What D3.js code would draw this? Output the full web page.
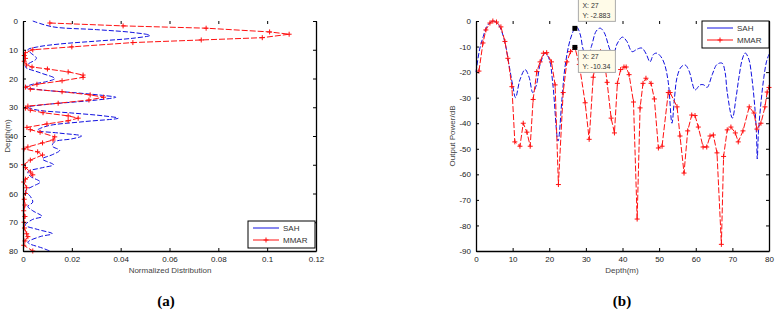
<!DOCTYPE html>
<html>
<head>
<meta charset="utf-8">
<script src="https://cdn.jsdelivr.net/npm/d3@7"></script>
<style>
  html, body { margin: 0; padding: 0; background: #fff; }
  svg { display: block; }
</style>
</head>
<body>
<svg id="chart" width="775" height="314" font-family="'Liberation Sans', Arial, sans-serif"></svg>
<script>
// ========= Data: panel (a) — [depth m, normalized distribution]
const sahA = [
  [0, 0.004], [2, 0.012], [3, 0.030], [4, 0.045], [5, 0.052], [6, 0.045], [7, 0.030],
  [8, 0.015], [9, 0.006], [10, 0.002], [11, 0.003], [13, 0.0055], [15, 0.002], [16, 0.001],
  [18, 0.007], [20, 0.013], [21, 0.010], [22, 0.004], [23, 0.001], [24, 0.008], [25, 0.022],
  [26, 0.034], [26.5, 0.038], [27.5, 0.030], [29, 0.010], [30, 0.002], [31, 0.006], [32, 0.020],
  [33, 0.033], [33.8, 0.039], [35, 0.025], [36.5, 0.010], [38, 0.006], [39, 0.015], [40, 0.024],
  [41, 0.020], [42, 0.013], [43.5, 0.012], [45, 0.015], [46.5, 0.012], [48, 0.008], [50, 0.0125],
  [51, 0.008], [52.5, 0.002], [54, 0.003], [56, 0.007], [57.5, 0.004], [59, 0.001], [61, 0.003],
  [63, 0.004], [64.5, 0.002], [66, 0.004], [68, 0.0078], [69, 0.004], [71, 0.001], [72.5, 0.006],
  [74, 0.012], [75, 0.007], [77, 0.002], [79, 0.008], [80, 0.011]
];
const mmarA = [
  [0.7, 0.011], [1.7, 0.041], [2.5, 0.075], [3.8, 0.101], [4.6, 0.109], [5.8, 0.098],
  [6.6, 0.073], [7.5, 0.045], [9, 0.020], [10, 0.004], [11, 0.001], [12, 0.0005], [13, 0.001],
  [14, 0.0005], [15.3, 0.0015], [16, 0.0037], [16.7, 0.010], [17.7, 0.0185], [18.8, 0.0246],
  [19.6, 0.0246], [20.8, 0.016], [22, 0.0057], [23, 0.001], [23.7, 0.003], [24.6, 0.016],
  [25.7, 0.0275], [26.5, 0.033], [27.5, 0.027], [28.6, 0.0144], [29.6, 0.002], [30.3, 0.001],
  [31, 0.003], [31.9, 0.0082], [33, 0.0185], [33.8, 0.0226], [34.7, 0.0185], [35.8, 0.0098],
  [37, 0.0016], [37.8, 0.003], [38.7, 0.007], [40.3, 0.013], [41.4, 0.0123], [42.4, 0.008],
  [43.8, 0.002], [44.5, 0.0004], [45.5, 0.006], [46.6, 0.008], [48.4, 0.003], [50, 0.0002],
  [51, 0.001], [52.5, 0.003], [53.5, 0.004], [55, 0.001], [56, 0.0003], [58, 0.0015],
  [60, 0.001], [62, 0.0005], [64, 0.0008], [66, 0.0003], [68, 0.0008], [70, 0.0004],
  [72, 0.0006], [74, 0.0015], [75, 0.002], [76.5, 0.0008], [78, 0.0003], [80, 0.004]
];
const xTicksA = [0, 0.02, 0.04, 0.06, 0.08, 0.1, 0.12];
const yTicksA = [0, 10, 20, 30, 40, 50, 60, 70, 80];

// ========= Data: panel (b) — [depth m, output power dB]
const sahB = [
  [0, -20], [1, -11], [2, -6], [3, -2], [4.6, 0], [6, -1.2], [7, -4], [8, -9], [9, -17],
  [10, -25], [10.8, -30], [12, -23], [13.4, -19], [14.5, -22], [15.5, -28], [16.5, -25],
  [17.5, -17], [18.9, -12.6], [20, -15], [21, -25], [22.4, -47], [23.5, -30], [24.3, -18],
  [25.7, -7.4], [27, -2.9], [27.6, -2.5], [28.5, -5.5], [29.3, -11.3], [30.4, -14], [31.5, -10],
  [32.8, -4], [33.9, -2.8], [35, -4.5], [36.6, -11.3], [37.5, -13.3], [38.5, -9], [40, -6.3],
  [41.2, -8], [42.6, -12], [44, -11], [45.3, -10.6], [46.5, -13], [47.5, -16], [48.5, -13],
  [49.4, -12.6], [50.5, -14], [51.5, -17], [52.5, -24], [53.5, -40], [54.2, -30], [54.9, -22],
  [56, -18], [57.1, -17.2], [58.3, -20], [59, -24], [59.8, -27], [61.2, -25], [62.2, -25],
  [63.1, -26], [64.5, -21], [65.8, -17], [67.2, -16.5], [68, -20], [68.6, -28], [70, -38],
  [71, -30], [71.8, -22], [72.7, -15], [73.5, -12.5], [74.5, -15], [75.3, -22], [76.2, -35],
  [76.6, -45], [76.8, -54], [77.1, -44], [77.8, -32], [78.6, -22], [79.3, -16], [80, -13]
];
const mmarB = [
  [0.8, -19.6], [1.9, -8.6], [2.7, -3.5], [3.8, -0.8], [4.6, 0], [5.6, -0.4], [6.8, -2.3],
  [7.9, -8], [8.7, -14.6], [9.8, -25.7], [10.6, -47.3], [12, -49], [12.9, -40], [13.9, -43.5],
  [14.8, -49], [15.6, -30.7], [16.6, -19.8], [17.5, -16], [18.4, -12.6], [19.3, -12.4],
  [20.6, -16], [21.6, -25], [22.5, -64], [23.8, -28], [24.8, -16], [25.8, -12], [27, -10.34],
  [28.2, -17], [29.8, -32], [30.9, -46.3], [32, -22], [33, -14], [34, -12], [35, -15],
  [35.8, -24], [36.9, -38], [37.8, -43.8], [38.6, -24.4], [39.5, -19], [40.4, -18], [41, -18],
  [41.8, -21], [43, -31.7], [44, -77.5], [44.8, -34], [45.6, -24.4], [46.4, -22.4],
  [47.8, -24.4], [48.7, -30.5], [49.8, -49.7], [50.8, -49], [52.5, -28], [53, -28],
  [54.9, -33.6], [55.7, -45], [56.8, -59.5], [57.8, -43], [58.9, -36.8], [59.8, -37],
  [60.7, -41.5], [62, -49.3], [63, -49.3], [63.9, -45], [64.8, -44.6], [65.8, -51.6],
  [67, -87.4], [67.6, -53], [68.6, -42.6], [69.6, -41.5], [70.8, -43.8], [71.6, -47.3],
  [72.9, -43], [74.6, -33.6], [75.9, -36], [76.7, -42.3], [77.8, -40], [78.9, -33.6],
  [79.5, -27.8], [80, -26]
];
const xTicksB = [0, 10, 20, 30, 40, 50, 60, 70, 80];
const yTicksB = [0, -10, -20, -30, -40, -50, -60, -70, -80, -90];

// data tips on panel (b)
const dataTips = [
  { x: 27, y: -2.883, label: ["X: 27", "Y: -2.883"], dy: -29 },
  { x: 27, y: -10.34, label: ["X: 27", "Y: -10.34"], dy: 3 }
];
const seriesNames = ["SAH", "MMAR"];

// ========= Setup
const svg = d3.select("#chart");
const BLUE = "#1010e0", RED = "#ff1010";

function plusMarks(g, pts, xf, yf, size) {
  const s = size / 2;
  g.selectAll(null).data(pts).enter().append("path")
    .attr("d", d => {
      const x = xf(d), y = yf(d);
      return `M${x - s},${y}H${x + s}M${x},${y - s}V${y + s}`;
    })
    .attr("stroke", RED)
    .attr("stroke-width", 1)
    .attr("fill", "none");
}

function frame(x, y, xTicks, yTicks, xFmt, yFmt) {
  const [x0, x1] = x.range();
  const y0 = d3.min(y.range()), y1 = d3.max(y.range());   // top, bottom
  const g = svg.append("g");

  const bottom = g.append("g").attr("transform", `translate(0,${y1})`)
    .call(d3.axisBottom(x).tickValues(xTicks).tickFormat(xFmt).tickSizeInner(-3).tickSizeOuter(0).tickPadding(5));
  const left = g.append("g").attr("transform", `translate(${x0},0)`)
    .call(d3.axisLeft(y).tickValues(yTicks).tickFormat(yFmt).tickSizeInner(-3).tickSizeOuter(0).tickPadding(5));
  const right = g.append("g").attr("transform", `translate(${x1},0)`)
    .call(d3.axisRight(y).tickValues(yTicks).tickFormat("").tickSizeInner(-3).tickSizeOuter(0));
  const top = g.append("g").attr("transform", `translate(0,${y0})`)
    .call(d3.axisTop(x).tickValues(xTicks).tickFormat("").tickSizeInner(-3).tickSizeOuter(0));
  top.select(".domain").remove();

  [bottom, left, right, top].forEach(a => {
    a.selectAll(".domain").attr("stroke", "#000").attr("stroke-width", 1.3);
    a.selectAll(".tick line").attr("stroke", "#000");
    a.selectAll("text").attr("font-size", 8).attr("fill", "#222")
      .attr("font-family", "'Liberation Sans', Arial, sans-serif");
  });
  return g;
}

function legend(x, y, w, h) {
  const g = svg.append("g").attr("transform", `translate(${x},${y})`);
  g.append("rect").attr("width", w).attr("height", h)
    .attr("fill", "#fff").attr("stroke", "#000").attr("stroke-width", 1);
  const rowY = [7, 19];
  g.append("line").attr("x1", 5).attr("x2", 31).attr("y1", rowY[0]).attr("y2", rowY[0])
    .attr("stroke", BLUE).attr("stroke-width", 1);
  g.append("line").attr("x1", 5).attr("x2", 31).attr("y1", rowY[1]).attr("y2", rowY[1])
    .attr("stroke", RED).attr("stroke-width", 1);
  plusMarks(g, [[18, rowY[1]]], d => d[0], d => d[1], 5);
  g.selectAll("text.leg").data(seriesNames).enter().append("text")
    .attr("class", "leg")
    .attr("x", 35).attr("y", (d, i) => rowY[i] + 3)
    .attr("font-size", 8).attr("fill", "#333")
    .text(d => d);
}

// ========= Panel (a)
const xa = d3.scaleLinear().domain([0, 0.12]).range([23, 316]);
const ya = d3.scaleLinear().domain([0, 80]).range([21, 251]);

const gA = svg.append("g");
gA.append("path").datum(sahA)
  .attr("fill", "none").attr("stroke", BLUE).attr("stroke-width", 1)
  .attr("stroke-dasharray", "5,2")
  .attr("d", d3.line().x(d => xa(d[1])).y(d => ya(d[0])).curve(d3.curveCatmullRom));
gA.append("path").datum(mmarA)
  .attr("fill", "none").attr("stroke", RED).attr("stroke-width", 1)
  .attr("stroke-dasharray", "6,2")
  .attr("d", d3.line().x(d => xa(d[1])).y(d => ya(d[0])));
plusMarks(gA, mmarA, d => xa(d[1]), d => ya(d[0]), 5);

frame(xa, ya, xTicksA, yTicksA, d => d === 0 ? "0" : String(d), d => String(d));
legend(248, 221, 67, 27);

svg.append("text").attr("x", 170).attr("y", 273).attr("text-anchor", "middle")
  .attr("font-size", 8).attr("fill", "#444").text("Normalized Distribution");
svg.append("text").attr("transform", "translate(10,136) rotate(-90)").attr("text-anchor", "middle")
  .attr("font-size", 8).attr("fill", "#444").text("Depth(m)");

// ========= Panel (b)
const xb = d3.scaleLinear().domain([0, 80]).range([476, 769]);
const yb = d3.scaleLinear().domain([-90, 0]).range([251, 21]);

const gB = svg.append("g");
gB.append("path").datum(sahB)
  .attr("fill", "none").attr("stroke", BLUE).attr("stroke-width", 1)
  .attr("stroke-dasharray", "5,2")
  .attr("d", d3.line().x(d => xb(d[0])).y(d => yb(d[1])).curve(d3.curveCatmullRom));
gB.append("path").datum(mmarB)
  .attr("fill", "none").attr("stroke", RED).attr("stroke-width", 1)
  .attr("stroke-dasharray", "6,2")
  .attr("d", d3.line().x(d => xb(d[0])).y(d => yb(d[1])));
plusMarks(gB, mmarB, d => xb(d[0]), d => yb(d[1]), 5);

frame(xb, yb, xTicksB, yTicksB, d => String(d), d => String(d));
legend(702, 21, 67, 27);

// data tips
dataTips.forEach(t => {
  const px = xb(t.x), py = yb(t.y);
  svg.append("rect").attr("x", px - 2.5).attr("y", py - 2.5).attr("width", 5).attr("height", 5)
    .attr("fill", "#000");
  const bx = px + 3.5, by = py + t.dy;
  svg.append("rect").attr("x", bx).attr("y", by).attr("width", 37).attr("height", 22)
    .attr("fill", "#fffbe8").attr("stroke", "#aaa").attr("stroke-width", 1);
  t.label.forEach((s, i) => {
    svg.append("text").attr("x", bx + 4).attr("y", by + 9 + i * 9.5)
      .attr("font-size", 7).attr("fill", "#333").text(s);
  });
});

svg.append("text").attr("x", 622).attr("y", 273).attr("text-anchor", "middle")
  .attr("font-size", 8).attr("fill", "#444").text("Depth(m)");
svg.append("text").attr("transform", "translate(455,136) rotate(-90)").attr("text-anchor", "middle")
  .attr("font-size", 8).attr("fill", "#444").text("Output Power/dB");

// ========= Sub-captions
[["(a)", 166], ["(b)", 622]].forEach(([s, x]) => {
  svg.append("text").attr("x", x).attr("y", 306).attr("text-anchor", "middle")
    .attr("font-family", "'Liberation Serif', 'DejaVu Serif', serif")
    .attr("font-weight", "bold").attr("font-size", 15).attr("fill", "#000").text(s);
});
</script>
</body>
</html>
